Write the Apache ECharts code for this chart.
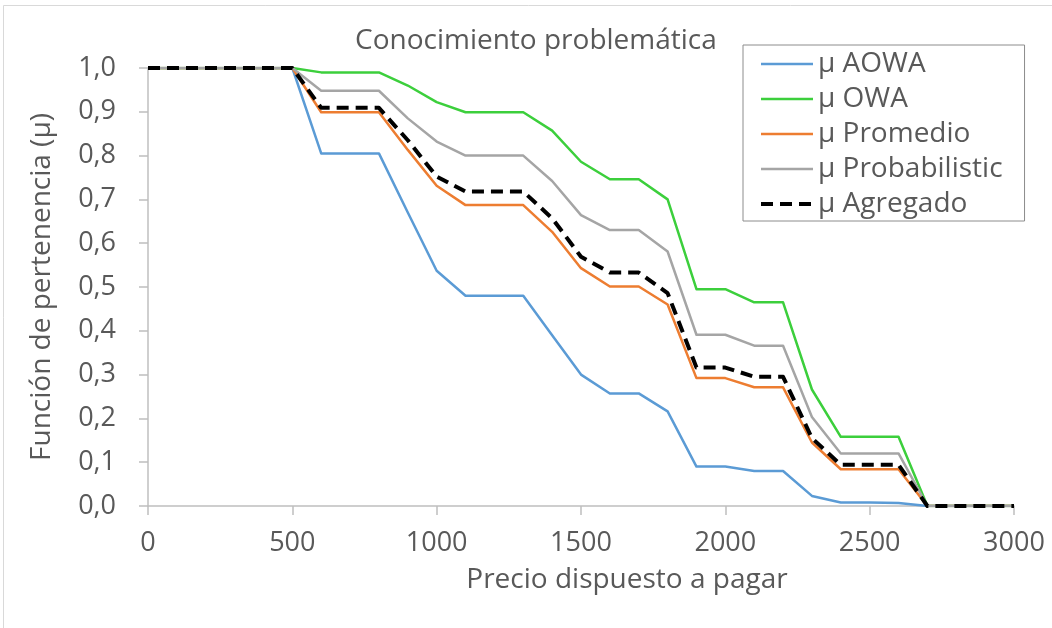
<!DOCTYPE html>
<html>
<head>
<meta charset="utf-8">
<title>Conocimiento problemática</title>
<script src="https://cdn.jsdelivr.net/npm/echarts@6/dist/echarts.min.js"></script>
<style>
  html, body { margin: 0; padding: 0; background: #fff; }
  #chart { width: 1052px; height: 628px; }
</style>
</head>
<body>
<div id="chart"></div>
<script>
// Price levels (x) and membership degrees for each aggregation operator
const precios = [0, 100, 200, 300, 400, 500, 600, 700, 800, 900, 1000,
  1100, 1200, 1300, 1400, 1500, 1600, 1700, 1800, 1900, 2000,
  2100, 2200, 2300, 2400, 2500, 2600, 2700, 2800, 2900, 3000];

const muAOWA = [1, 1, 1, 1, 1, 1, 0.805, 0.805, 0.805, 0.67, 0.537,
  0.48, 0.48, 0.48, 0.39, 0.30, 0.257, 0.257, 0.216, 0.09, 0.09,
  0.08, 0.08, 0.023, 0.008, 0.008, 0.007, 0, 0, 0, 0];

const muOWA = [1, 1, 1, 1, 1, 1, 0.99, 0.99, 0.99, 0.96, 0.922,
  0.899, 0.899, 0.899, 0.857, 0.786, 0.746, 0.746, 0.70, 0.495, 0.495,
  0.465, 0.465, 0.266, 0.158, 0.158, 0.158, 0, 0, 0, 0];

const muPromedio = [1, 1, 1, 1, 1, 1, 0.899, 0.899, 0.899, 0.813, 0.731,
  0.687, 0.687, 0.687, 0.626, 0.543, 0.501, 0.501, 0.46, 0.292, 0.292,
  0.271, 0.271, 0.145, 0.084, 0.084, 0.084, 0, 0, 0, 0];

const muProbabilistic = [1, 1, 1, 1, 1, 1, 0.948, 0.948, 0.948, 0.885, 0.832,
  0.80, 0.80, 0.80, 0.742, 0.664, 0.63, 0.63, 0.581, 0.391, 0.391,
  0.366, 0.366, 0.203, 0.12, 0.12, 0.12, 0, 0, 0, 0];

const muAgregado = [1, 1, 1, 1, 1, 1, 0.909, 0.909, 0.909, 0.835, 0.752,
  0.718, 0.718, 0.718, 0.657, 0.569, 0.533, 0.533, 0.486, 0.316, 0.316,
  0.295, 0.295, 0.155, 0.094, 0.094, 0.094, 0, 0, 0, 0];

const seriesNames = ['μ AOWA', 'μ OWA', 'μ Promedio', 'μ Probabilistic', 'μ Agregado'];
const seriesColors = ['#5B9BD5', '#3CCF3C', '#ED7D31', '#A5A5A5', '#000000'];
const seriesWidths = [2.5, 2.5, 2.5, 2.5, 4];
const seriesDashed = [false, false, false, false, true];

const FONT = '"Open Sans", "Noto Sans", sans-serif';
const TEXT = '#595959';
const AXIS = '#BFBFBF';
const DASH = [12, 7];

function pairs(values) {
  return precios.map((p, i) => [p, values[i]]);
}

function styleOf(i) {
  return {
    color: seriesColors[i],
    width: seriesWidths[i],
    type: seriesDashed[i] ? DASH : 'solid',
    cap: 'butt',
    join: 'round'
  };
}

function lineSeries(i, values) {
  return {
    name: seriesNames[i],
    type: 'line',
    data: pairs(values),
    symbol: 'none',
    showSymbol: false,
    smooth: false,
    animation: false,
    lineStyle: styleOf(i),
    itemStyle: { color: seriesColors[i] }
  };
}

const chart = echarts.init(document.getElementById('chart'), null, { renderer: 'canvas' });

chart.setOption({
  backgroundColor: '#ffffff',
  animation: false,
  graphic: [{
    type: 'rect',
    silent: true,
    shape: { x: 3.5, y: 5.5, width: 1070, height: 660 },
    style: { fill: 'none', stroke: '#D9D9D9', lineWidth: 1 },
    z: -10
  }],
  title: {
    text: 'Conocimiento problemática',
    left: 350,
    top: 22,
    textStyle: { fontFamily: FONT, fontSize: 28, fontWeight: 'normal', color: TEXT }
  },
  legend: {
    orient: 'vertical',
    left: 743,
    top: 45,
    padding: [5, 22, 3, 16],
    itemGap: 7,
    itemWidth: 52,
    itemHeight: 14,
    backgroundColor: '#ffffff',
    borderColor: '#8C8C8C',
    borderWidth: 1,
    borderRadius: 0,
    // hide the marker drawn on top of each legend line sample
    itemStyle: { opacity: 0 },
    data: seriesNames.map((name, i) => ({
      name: name,
      lineStyle: {
        color: seriesColors[i],
        width: seriesWidths[i],
        type: seriesDashed[i] ? DASH : 'solid',
        cap: 'butt'
      }
    })),
    textStyle: { fontFamily: FONT, fontSize: 28, color: TEXT }
  },
  grid: { left: 148, right: 38, top: 68, bottom: 122, containLabel: false },
  xAxis: {
    type: 'value',
    min: 0,
    max: 3000,
    interval: 500,
    name: 'Precio dispuesto a pagar',
    nameLocation: 'middle',
    nameGap: 60,
    nameTextStyle: { fontFamily: FONT, fontSize: 28, color: TEXT, padding: [0, 0, 0, 92] },
    axisLine: { show: true, lineStyle: { color: AXIS, width: 1.5 } },
    axisTick: { show: true, inside: false, length: 9, lineStyle: { color: AXIS, width: 1.5 } },
    axisLabel: {
      fontFamily: FONT, fontSize: 27, color: TEXT, margin: 24,
      formatter: v => String(v)
    },
    splitLine: { show: false }
  },
  yAxis: {
    type: 'value',
    min: 0,
    max: 1,
    interval: 0.1,
    name: 'Función de pertenencia (μ)',
    nameLocation: 'middle',
    nameGap: 92,
    nameRotate: 90,
    nameTextStyle: { fontFamily: FONT, fontSize: 28, color: TEXT },
    axisLine: { show: true, lineStyle: { color: AXIS, width: 1.5 } },
    axisTick: { show: true, inside: false, length: 9, lineStyle: { color: AXIS, width: 1.5 } },
    axisLabel: {
      fontFamily: FONT, fontSize: 27, color: TEXT, margin: 32,
      formatter: v => v.toFixed(1).replace('.', ',')
    },
    splitLine: { show: false }
  },
  series: [
    lineSeries(0, muAOWA),
    lineSeries(1, muOWA),
    lineSeries(2, muPromedio),
    lineSeries(3, muProbabilistic),
    lineSeries(4, muAgregado)
  ]
});
</script>
</body>
</html>
